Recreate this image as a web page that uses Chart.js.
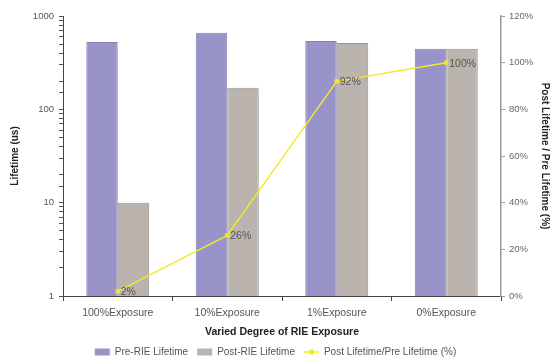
<!DOCTYPE html>
<html>
<head>
<meta charset="utf-8">
<script src="https://cdn.jsdelivr.net/npm/chart.js@4.4.1/dist/chart.umd.min.js"></script>
<style>
  html, body { margin: 0; padding: 0; background: #fff; }
  #wrap { width: 551px; height: 361px; }
</style>
</head>
<body>
<div id="wrap"><canvas id="chart" width="551" height="361"></canvas></div>
<script>
// exposure levels and measured lifetimes
const categories = ['100%Exposure', '10%Exposure', '1%Exposure', '0%Exposure'];
const preLifetime = [525, 660, 540, 445];
const postLifetime = [10, 170, 515, 445];
const ratioPct = [2, 26, 92, 100];
const ratioLabels = ['2%', '26%', '92%', '100%'];
const lifetimeTicks = [1, 10, 100, 1000];
const xTitle = 'Varied Degree of RIE Exposure';

const FONT = "'Liberation Sans', Arial, sans-serif";
const PLOT_TOP = 16, PLOT_BOTTOM = 296, PLOT_LEFT = 63, PLOT_RIGHT = 501;
const LEGEND_TOP = 338;
const LINE_COLOR = '#f3e92c';

// percent labels next to the ratio points
const pointLabels = {
    id: 'pointLabels',
    afterDatasetsDraw(chart) {
        const meta = chart.getDatasetMeta(2);
        const ctx = chart.ctx;
        ctx.save();
        ctx.font = '10.5px ' + FONT;
        ctx.fillStyle = '#555';
        ctx.textAlign = 'left';
        ctx.textBaseline = 'middle';
        meta.data.forEach((pt, i) => {
            ctx.fillText(ratioLabels[i], pt.x + 3, pt.y + 1);
        });
        ctx.restore();
    }
};

// category axis title, kept at a fixed distance under the plot
const xAxisTitle = {
    id: 'xAxisTitle',
    afterDraw(chart) {
        const area = chart.chartArea;
        const ctx = chart.ctx;
        ctx.save();
        ctx.font = 'bold 10.5px ' + FONT;
        ctx.fillStyle = '#222';
        ctx.textAlign = 'center';
        ctx.textBaseline = 'middle';
        ctx.fillText(xTitle, (area.left + area.right) / 2, area.bottom + 36);
        ctx.restore();
    }
};

// push the legend row down to the bottom edge
const legendShift = {
    id: 'legendShift',
    afterLayout(chart) {
        const lg = chart.legend;
        if (!lg) return;
        const dy = LEGEND_TOP - lg.top;
        lg.top += dy;
        lg.bottom += dy;
    }
};

// little marker on the line entry of the legend
const legendMarker = {
    id: 'legendMarker',
    afterDraw(chart) {
        const lg = chart.legend;
        if (!lg) return;
        const idx = lg.legendItems.findIndex(it => it.datasetIndex === 2);
        const hb = lg.legendHitBoxes[idx];
        if (!hb) return;
        const ctx = chart.ctx;
        const x = hb.left + lg.options.labels.boxWidth / 2;
        const y = hb.top + hb.height / 2;
        ctx.save();
        ctx.fillStyle = LINE_COLOR;
        ctx.fillRect(x - 2.5, y - 2.5, 5, 5);
        ctx.restore();
    }
};

new Chart(document.getElementById('chart'), {
    data: {
        labels: categories,
        datasets: [
            {
                type: 'bar',
                label: 'Pre-RIE Lifetime',
                data: preLifetime,
                yAxisID: 'y',
                backgroundColor: '#9893c9',
                borderColor: '#8580b8',
                borderWidth: 1,
                pointStyle: 'rect',
                order: 1
            },
            {
                type: 'bar',
                label: 'Post-RIE Lifetime',
                data: postLifetime,
                yAxisID: 'y',
                backgroundColor: '#bab3ae',
                borderColor: '#99938f',
                borderWidth: 1,
                pointStyle: 'rect',
                order: 1
            },
            {
                type: 'line',
                label: 'Post Lifetime/Pre Lifetime (%)',
                data: ratioPct,
                yAxisID: 'y1',
                borderColor: LINE_COLOR,
                backgroundColor: LINE_COLOR,
                borderWidth: 1.5,
                pointStyle: 'rect',
                pointRadius: 3,
                pointBorderWidth: 0,
                tension: 0,
                order: 0
            }
        ]
    },
    options: {
        responsive: false,
        animation: false,
        layout: { padding: { top: PLOT_TOP, left: 0, right: 0, bottom: 0 } },
        datasets: {
            bar: { categoryPercentage: 0.575, barPercentage: 1.0 }
        },
        plugins: {
            tooltip: { enabled: false },
            legend: {
                position: 'bottom',
                labels: {
                    font: { family: FONT, size: 10 },
                    color: '#555',
                    usePointStyle: true,
                    pointStyleWidth: 15,
                    boxWidth: 15,
                    boxHeight: 7,
                    padding: 9,
                    generateLabels(chart) {
                        const items = Chart.defaults.plugins.legend.labels.generateLabels(chart);
                        items.sort((a, b) => a.datasetIndex - b.datasetIndex);
                        items.forEach(it => {
                            if (it.datasetIndex === 2) {
                                it.pointStyle = 'line';
                                it.lineWidth = 1.5;
                            } else {
                                it.lineWidth = 0;
                            }
                        });
                        return items;
                    }
                }
            }
        },
        scales: {
            x: {
                offset: true,
                grid: {
                    offset: true,
                    drawOnChartArea: false,
                    tickLength: 5,
                    color: '#444'
                },
                border: { color: '#444', width: 1 },
                ticks: {
                    font: { family: FONT, size: 10.5 },
                    color: '#555',
                    padding: 6,
                    maxRotation: 0
                },
                afterFit(scale) {
                    const lh = scale.chart.legend ? scale.chart.legend.height : 0;
                    scale.height = scale.chart.height - PLOT_BOTTOM - lh;
                }
            },
            y: {
                type: 'logarithmic',
                position: 'left',
                min: 1,
                max: 1000,
                grid: {
                    drawOnChartArea: false,
                    tickLength: 4,
                    color: '#555'
                },
                border: { color: '#444', width: 1 },
                ticks: {
                    autoSkip: false,
                    font: { family: FONT, size: 9.5 },
                    color: '#555',
                    padding: 5,
                    callback: v => lifetimeTicks.includes(v) ? String(v) : ''
                },
                title: {
                    display: true,
                    text: 'Lifetime (us)',
                    font: { family: FONT, size: 10, weight: 'bold' },
                    color: '#222',
                    padding: { top: 9, bottom: 0 }
                },
                afterFit(scale) { scale.width = PLOT_LEFT; }
            },
            y1: {
                type: 'linear',
                position: 'right',
                min: 0,
                max: 120,
                grid: {
                    drawOnChartArea: false,
                    tickLength: 4,
                    color: '#999'
                },
                border: { color: '#999', width: 1.5 },
                ticks: {
                    stepSize: 20,
                    font: { family: FONT, size: 9.5 },
                    color: '#666',
                    padding: 4,
                    callback: v => v + '%'
                },
                title: {
                    display: true,
                    text: 'Post Lifetime / Pre Lifetime (%)',
                    font: { family: FONT, size: 10, weight: 'bold' },
                    color: '#222',
                    padding: { top: 0, bottom: 0 }
                },
                afterFit(scale) { scale.width = 551 - PLOT_RIGHT; }
            }
        }
    },
    plugins: [pointLabels, xAxisTitle, legendShift, legendMarker]
});
</script>
</body>
</html>
